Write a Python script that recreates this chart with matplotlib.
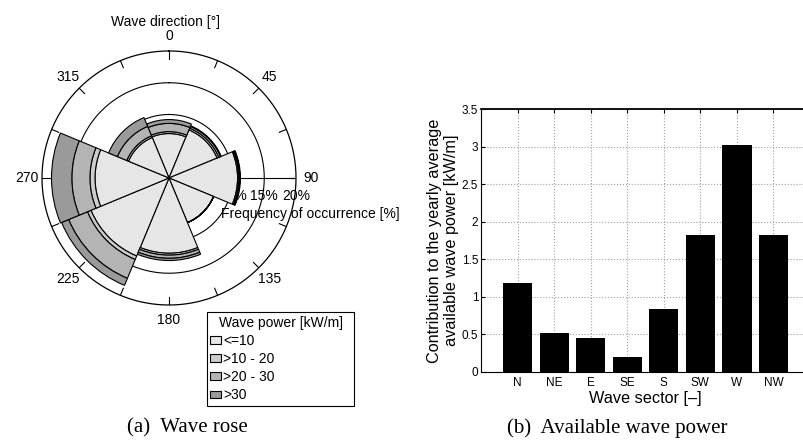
import numpy as np
import matplotlib
matplotlib.use("Agg")
import matplotlib.pyplot as plt
from matplotlib.ticker import FormatStrFormatter
from matplotlib.transforms import offset_copy

plt.rcParams["font.family"] = ["Liberation Sans", "DejaVu Sans"]

# wave rose: frequency of occurrence [%] per sector and wave power class
sectors = ["N", "NE", "E", "SE", "S", "SW", "W", "NW"]
sector_dirs = [0, 45, 90, 135, 180, 225, 270, 315]
power_classes = ["<=10", ">10 - 20", ">20 - 30", ">30"]
freq_le10 = [7.0, 8.2, 10.8, 7.6, 11.85, 13.3, 11.65, 6.9]
freq_10_20 = [0.3, 0.3, 0.2, 0.0, 0.3, 0.6, 0.8, 0.3]
freq_20_30 = [1.3, 0.3, 0.15, 0.0, 0.5, 3.2, 2.85, 1.6]
freq_gt30 = [0.6, 0.1, 0.1, 0.0, 0.35, 1.2, 3.2, 1.5]
class_colors = ["#e6e6e6", "#cccccc", "#b4b4b4", "#9a9a9a"]
ring_levels = [5, 10, 15, 20]
dir_labels = [0, 45, 90, 135, 180, 225, 270, 315]

# available wave power per sector [kW/m]
sector_power = [1.18, 0.51, 0.45, 0.19, 0.84, 1.83, 3.03, 1.83]
power_ticks = [0, 0.5, 1, 1.5, 2, 2.5, 3, 3.5]

fig = plt.figure(figsize=(8.04, 4.41), dpi=100)

# ---- (a) wave rose
axr = fig.add_axes([0.0522, 0.3084, 0.316, 0.576], projection="polar")
axr.set_theta_zero_location("N")
axr.set_theta_direction(-1)
axr.set_ylim(0, 20)
axr.axis("off")

circ = np.linspace(0, 2 * np.pi, 721)
for lev in ring_levels[:-1]:
    axr.plot(circ, np.full_like(circ, lev), color="black", lw=0.8, zorder=1)
axr.plot(circ, np.full_like(circ, ring_levels[-1]), color="black", lw=0.9,
         zorder=3, clip_on=False)
axr.plot([np.pi / 2, np.pi / 2], [0, 20], color="black", lw=0.8, zorder=1)
for d in np.arange(0, 360, 22.5):
    axr.plot([np.deg2rad(d)] * 2, [18.8, 20], color="black", lw=0.8, zorder=3)
for d in dir_labels:
    axr.text(np.deg2rad(d), 22.4, str(d), ha="center", va="center", fontsize=10)

# percent labels sit just under the 90 deg radial line
pct_trans = offset_copy(axr.transData, fig=fig, y=-13, units="points")
for lev in ring_levels:
    axr.text(np.pi / 2, lev, f"{lev}%", transform=pct_trans, ha="center",
             va="center", fontsize=10, zorder=1.5)

theta = np.deg2rad(sector_dirs)
bottom = np.zeros(len(sectors))
handles = []
for vals, col, lab in zip([freq_le10, freq_10_20, freq_20_30, freq_gt30],
                          class_colors, power_classes):
    b = axr.bar(theta, vals, width=np.deg2rad(45), bottom=bottom, color=col,
                edgecolor="black", linewidth=0.8, label=lab, zorder=2)
    handles.append(b)
    bottom += np.array(vals)

axr.text(0.485, 1.115, "Wave direction [°]", transform=axr.transAxes,
         ha="center", va="center", fontsize=10)
axr.text(0.705, 0.358, "Frequency of occurrence [%]", transform=axr.transAxes,
         ha="left", va="center", fontsize=10, zorder=4)

leg = fig.legend(handles, power_classes, title="Wave power [kW/m]",
                 loc="upper left", bbox_to_anchor=(0.2571, 0.0786, 0.1836, 0.2132),
                 mode="expand", fontsize=10, title_fontsize=10, fancybox=False,
                 edgecolor="black", framealpha=1, borderpad=0.25,
                 labelspacing=0.3, handlelength=0.8, handleheight=0.5,
                 handletextpad=0.15, borderaxespad=0)
leg.get_frame().set_linewidth(0.8)

# ---- (b) available wave power
axb = fig.add_axes([0.5983, 0.1571, 0.4092, 0.595])
x = np.arange(1, len(sectors) + 1)
axb.bar(x, sector_power, width=0.8, color="black", zorder=2)
axb.set_xlim(0, 9)
axb.set_ylim(0, 3.5)
axb.set_xticks(x)
axb.set_xticklabels(sectors)
axb.set_yticks(power_ticks)
axb.yaxis.set_major_formatter(FormatStrFormatter("%g"))
axb.grid(True, linestyle=":", color="#a0a0a0", lw=0.8)
axb.set_axisbelow(True)
axb.tick_params(direction="in", length=3, labelsize=8.5, top=True, right=True)
axb.tick_params(axis="x", pad=4)
axb.tick_params(axis="y", pad=2)
for sp in axb.spines.values():
    sp.set_linewidth(0.8)
axb.spines["top"].set_linewidth(1.3)
axb.set_xlabel("Wave sector [–]", fontsize=11.7, labelpad=1.5)
axb.set_ylabel("Contribution to the yearly average\navailable wave power [kW/m]",
               fontsize=11.7, labelpad=2)

# captions
fig.text(187 / 804, 1 - 428 / 441, "(a)  Wave rose", family="Liberation Serif",
         fontsize=15, ha="center", va="center")
fig.text(617 / 804, 1 - 428 / 441, "(b)  Available wave power",
         family="Liberation Serif", fontsize=15, ha="center", va="center")

fig.savefig("out.png", dpi=100)
plt.close(fig)
